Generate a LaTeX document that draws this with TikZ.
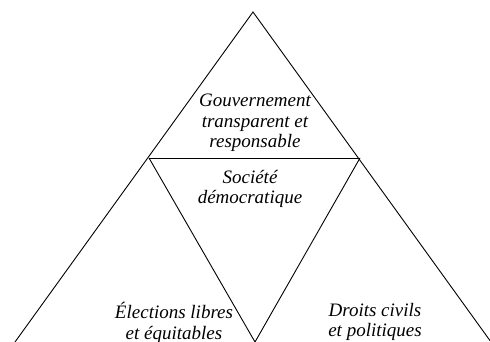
\documentclass[tikz,border=0pt]{standalone}
\usepackage{fontspec}
\setmainfont{Liberation Serif}
\usetikzlibrary{positioning}

\begin{document}
\begin{tikzpicture}[x=1pt, y=1pt,
    edge/.style={draw=black, line width=0.9pt, line join=miter},
    label/.style={align=center, inner sep=0pt, text=black,
                  font=\fontsize{19}{20.5}\selectfont\itshape}]
    \useasboundingbox (0,0) rectangle (490,342);

    % Corners
    \coordinate (apex) at (253,330);
    \coordinate (botleft) at (15,0);
    \coordinate (botright) at (491,0);
    \coordinate (midleft) at (149,184);
    \coordinate (midright) at (360,184);
    \coordinate (botmid) at (255,0);

    % Labels
    \node[label] (gouv) at (255,219) {Gouvernement\\transparent et\\responsable};
    \node[label] (societe) at (250,153) {Société\\démocratique};
    \node[label] (elections) at (174,19) {Élections libres\\et équitables};
    \node[label] (droits) at (375,20) {Droits civils\\et politiques};

    % Lines
    \draw[edge] (botleft) -- (apex) -- (botright);
    \draw[edge] (midleft) -- (midright);
    \draw[edge] (midleft) -- (botmid) -- (midright);

\end{tikzpicture}
\end{document}
